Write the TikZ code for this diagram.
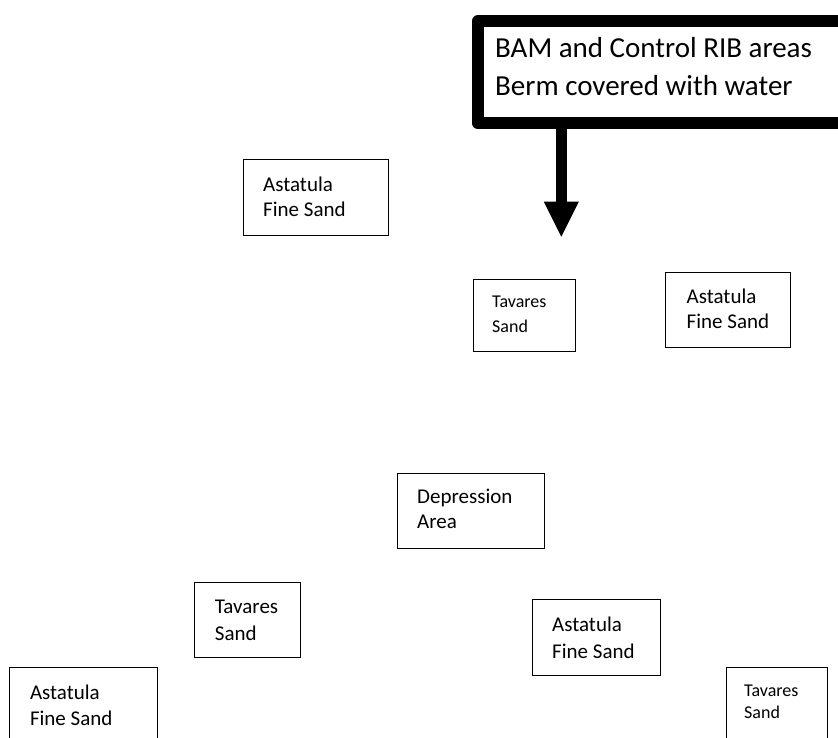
\documentclass[tikz,border=0pt]{standalone}
\usepackage{fontspec}
\setmainfont{Carlito}
\usetikzlibrary{arrows.meta}
\newcommand\twolns[3]{\vtop{\baselineskip=#1\relax\lineskiplimit=-100pt\hbox{#2}\hbox{#3}}}
\tikzset{
  sbox/.style={draw=black, line width=0.9pt, inner sep=0pt, anchor=north west, fill=none},
  txt/.style={anchor=base west, inner sep=0pt, text=black},
  big/.style={font=\fontsize{29}{38}\selectfont},
  mid/.style={font=\fontsize{21}{25}\selectfont},
  sml/.style={font=\fontsize{18}{22}\selectfont},
  calloutbox/.style={draw=black, line width=12pt, line join=round, inner sep=0pt, anchor=north west, fill=white},
}
\begin{document}
\begin{tikzpicture}[x=1pt,y=-1pt]
\useasboundingbox (0,0) rectangle (838,738);
\clip (0,0) rectangle (838,738);
\fill[white] (0,0) rectangle (838,738);
% callout
\node[calloutbox, minimum width=400pt, minimum height=102.5pt] (callout) at (472,15) {};
\node[txt, big] (callouttext) at (495,57.5) {\twolns{38pt}{BAM and Control RIB areas}{Berm covered with water}};
\coordinate (tip) at (561.3,236.7);
\draw[line width=10.5pt, -{Triangle[width=35pt,length=35pt,line width=0pt]}] (callout.south -| tip) -- (tip);
% boxes
\node[sbox, minimum width=145.6pt, minimum height=75.7pt] (a1) at (242.7,159.3) {};
\node[txt, mid] (a1t) at (263,191.7) {\twolns{25pt}{Astatula}{Fine Sand}};
\node[sbox, minimum width=102.3pt, minimum height=71.4pt] (t1) at (472.7,279.3) {};
\node[txt, sml] (t1t) at (492,307.7) {\twolns{25pt}{Tavares}{Sand}};
\node[sbox, minimum width=125pt, minimum height=75pt] (a2) at (665,272.3) {};
\node[txt, mid] (a2t) at (686.5,303.3) {\twolns{25pt}{Astatula}{Fine Sand}};
\node[sbox, minimum width=146.7pt, minimum height=75.3pt] (dep) at (397.3,472.7) {};
\node[txt, mid] (dept) at (417,503.5) {\twolns{25pt}{Depression}{Area}};
\node[sbox, minimum width=105.7pt, minimum height=75.6pt] (t2) at (194.3,581.7) {};
\node[txt, mid] (t2t) at (214.7,613.3) {\twolns{26.7pt}{Tavares}{Sand}};
\node[sbox, minimum width=147.4pt, minimum height=100pt] (a3) at (9.3,666.7) {};
\node[txt, mid] (a3t) at (29.8,699.3) {\twolns{25.7pt}{Astatula}{Fine Sand}};
\node[sbox, minimum width=127.7pt, minimum height=75.7pt] (a4) at (532.3,599.3) {};
\node[txt, mid] (a4t) at (552,631) {\twolns{27pt}{Astatula}{Fine Sand}};
\node[sbox, minimum width=101.6pt, minimum height=100pt] (t3) at (725.7,666.7) {};
\node[txt, sml] (t3t) at (744,696.7) {\twolns{21.6pt}{Tavares}{Sand}};
\end{tikzpicture}
\end{document}
